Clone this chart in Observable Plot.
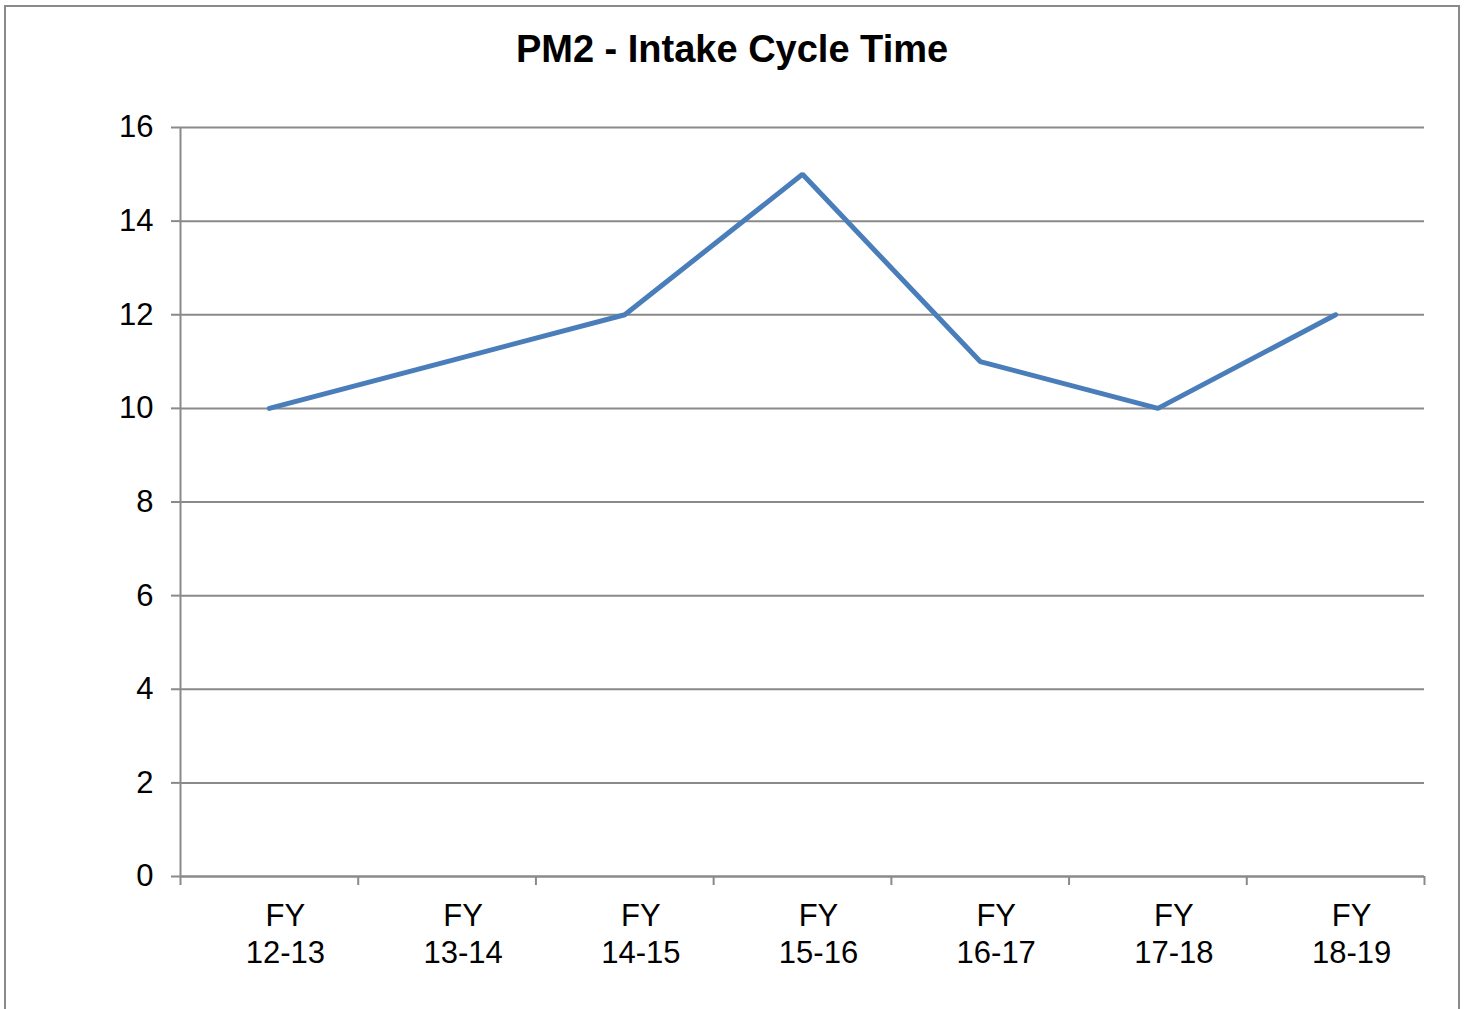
<!DOCTYPE html>
<html>
<head>
<meta charset="utf-8">
<script src="https://cdn.jsdelivr.net/npm/d3@7"></script>
<script src="https://cdn.jsdelivr.net/npm/@observablehq/plot@0.6"></script>
<style>
  html, body { margin: 0; padding: 0; background: #fff; }
  #wrap { position: relative; width: 1464px; height: 1009px; overflow: hidden; font-family: "Liberation Sans", Arial, sans-serif; }
  #border { position: absolute; left: 4px; top: 5px; width: 1456px; height: 1010px; border: 2px solid #8a8a8a; box-sizing: border-box; }
  #title { position: absolute; left: 0; top: 26px; width: 1464px; text-align: center; font-size: 38px; font-weight: bold; color: #000; line-height: 46px; }
  #chart { position: absolute; left: 0; top: 0; }
</style>
</head>
<body>
<div id="wrap">
  <div id="chart"></div>
  <div id="border"></div>
  <div id="title">PM2 - Intake Cycle Time</div>
</div>
<script>
const categories = ["FY\n12-13", "FY\n13-14", "FY\n14-15", "FY\n15-16", "FY\n16-17", "FY\n17-18", "FY\n18-19"];
const values = [10, 11, 12, 15, 11, 10, 12];
const yTicks = [0, 2, 4, 6, 8, 10, 12, 14, 16];

const data = categories.map((c, i) => ({i, value: values[i]}));
const boundaries = d3.range(categories.length + 1).map(k => k - 0.5);

const gridColor = "#8a8a8a";

const chart = Plot.plot({
  width: 1464,
  height: 1009,
  marginLeft: 180,
  marginRight: 40,
  marginTop: 127,
  marginBottom: 133,
  style: {fontFamily: "'Liberation Sans', Arial, sans-serif", fontSize: "31px", color: "#000", background: "transparent"},
  x: {type: "linear", domain: [-0.5, categories.length - 0.5]},
  y: {domain: [0, 16]},
  marks: [
    Plot.gridY(yTicks, {stroke: gridColor, strokeOpacity: 1, strokeWidth: 2}),
    Plot.axisY(yTicks, {tickSize: 9, tickPadding: 18, stroke: gridColor, strokeWidth: 2, fontSize: 31, label: null, fill: "#000"}),
    Plot.ruleX([-0.5], {stroke: gridColor, strokeWidth: 2}),
    Plot.ruleY([0], {stroke: gridColor, strokeWidth: 2}),
    Plot.axisX(boundaries, {tickSize: 9, tickFormat: () => "", stroke: gridColor, strokeWidth: 2, label: null}),
    Plot.axisX(d3.range(categories.length), {
      tickSize: 0, tickPadding: 23, dx: 16, lineHeight: 1.2,
      tickFormat: i => categories[i], fontSize: 31, fill: "#000", label: null
    }),
    Plot.lineY(data, {x: "i", y: "value", stroke: "#4a7ebb", strokeWidth: 5, strokeLinejoin: "miter"})
  ]
});
document.getElementById("chart").appendChild(chart);
</script>
</body>
</html>
